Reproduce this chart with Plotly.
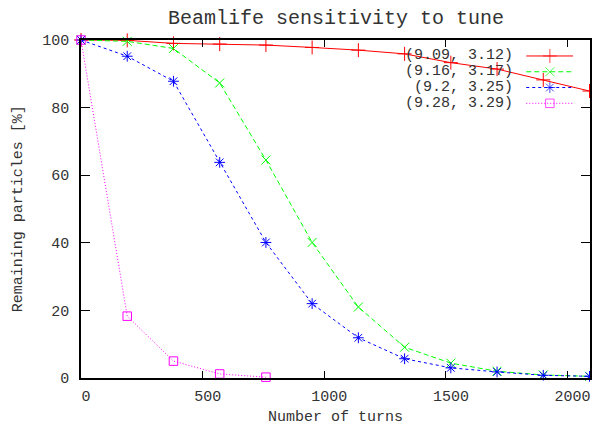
import plotly.graph_objects as go

# ---- data ----
turns = [0, 190, 380, 570, 760, 950, 1140, 1330, 1520, 1710, 1900, 2090]
turns_short = [0, 190, 380, 570, 760]
s1_name = "(9.09, 3.12)"
s1 = [100, 99.9, 99.0, 98.8, 98.5, 97.8, 97.0, 95.9, 93.3, 91.4, 88.2, 84.9]
s2_name = "(9.16, 3.17)"
s2 = [100, 99.6, 97.5, 87.3, 64.5, 40.1, 21.0, 9.1, 4.4, 2.0, 0.9, 0.5]
s3_name = "(9.2, 3.25)"
s3 = [100, 95.2, 87.8, 63.8, 40.1, 22.0, 11.9, 5.7, 3.0, 1.8, 0.8, 0.5]
s4_name = "(9.28, 3.29)"
s4 = [100, 18.3, 5.0, 1.2, 0.25]

x_ticks = [0, 500, 1000, 1500, 2000]
y_ticks = [0, 20, 40, 60, 80, 100]

FONT = "Liberation Mono"
TXT = "#333333"

series = [
    (s1_name, turns, s1, "#ff0000", "solid", "cross-thin-open", 10),
    (s2_name, turns, s2, "#00ff00", "5px,3px", "x-thin-open", 9),
    (s3_name, turns, s3, "#0000ff", "3px,3px", "asterisk-open", 9),
    (s4_name, turns_short, s4, "#ff00ff", "1px,2px", "square-open", 8.5),
]

fig = go.Figure()
for name, xs, ys, col, dash, sym, sz in series:
    fig.add_trace(go.Scatter(
        x=xs, y=ys, mode="lines+markers", name=name, showlegend=False,
        line=dict(color=col, width=1, dash=dash),
        marker=dict(symbol=sym, size=sz, color=col, line=dict(color=col, width=1)),
        cliponaxis=False,
    ))

# custom legend (text right-aligned, key sample on the right)
W, L, T, B = 592, 81, 40, 378.5
ph = B - T
pw = W - L
row_y = [56, 71.8, 87.6, 103.4]
for (name, xs, ys, col, dash, sym, sz), ry in zip(series, row_y):
    yp = (B - ry) / ph
    fig.add_annotation(x=(517 - L) / pw, y=yp, xref="paper", yref="paper",
                       text=name, showarrow=False, xanchor="right", yanchor="middle",
                       font=dict(family=FONT, size=15, color=TXT))
    x0, xm, x1 = (528 - L) / pw, (551.7 - L) / pw, (575 - L) / pw
    fig.add_trace(go.Scatter(
        x=[x0, xm, x1], y=[yp, yp, yp], xaxis="x2", yaxis="y2",
        mode="lines+markers", showlegend=False, hoverinfo="skip",
        line=dict(color=col, width=1, dash=dash),
        marker=dict(symbol=sym, size=[0, sz, 0], color=col, line=dict(color=col, width=1)),
        cliponaxis=False,
    ))

fig.add_annotation(x=0.5, y=(B - 418) / ph, xref="paper", yref="paper",
                   text="Number of turns", showarrow=False, yanchor="middle",
                   font=dict(family=FONT, size=15, color=TXT))
fig.add_annotation(x=(18 - L) / pw, y=0.5, xref="paper", yref="paper",
                   text="Remaining particles [%]", showarrow=False, textangle=-90,
                   xanchor="center", yanchor="middle",
                   font=dict(family=FONT, size=15, color=TXT))

fig.update_layout(
    width=592, height=426,
    margin=dict(l=L, r=0, t=T, b=426 - B),
    paper_bgcolor="white", plot_bgcolor="white",
    title=dict(text="Beamlife sensitivity to tune", x=(337 - L) / pw, xref="paper",
               xanchor="center", y=1 - 17 / 426, yanchor="middle",
               font=dict(family=FONT, size=20, color=TXT)),
    xaxis=dict(range=[0, 2092], tickvals=x_ticks, ticktext=[str(v) for v in x_ticks],
               ticks="inside", ticklen=7, tickcolor="black", tickwidth=1,
               showline=True, linecolor="black", linewidth=1.5, mirror="ticks",
               showgrid=False, zeroline=False, ticklabelshift=5, ticklabelstandoff=3,
               tickfont=dict(family=FONT, size=15, color=TXT)),
    yaxis=dict(range=[0, 100], tickvals=y_ticks, ticktext=[str(v) for v in y_ticks],
               ticks="inside", ticklen=9, tickcolor="black", tickwidth=1,
               showline=True, linecolor="black", linewidth=1.5, mirror="ticks",
               showgrid=False, zeroline=False, ticklabelstandoff=7,
               tickfont=dict(family=FONT, size=15, color=TXT)),
    xaxis2=dict(overlaying="x", range=[0, 1], visible=False),
    yaxis2=dict(overlaying="y", range=[0, 1], visible=False),
)

fig.write_html("out.html", config={"displayModeBar": False},
               post_script="document.body.style.margin='0';")
